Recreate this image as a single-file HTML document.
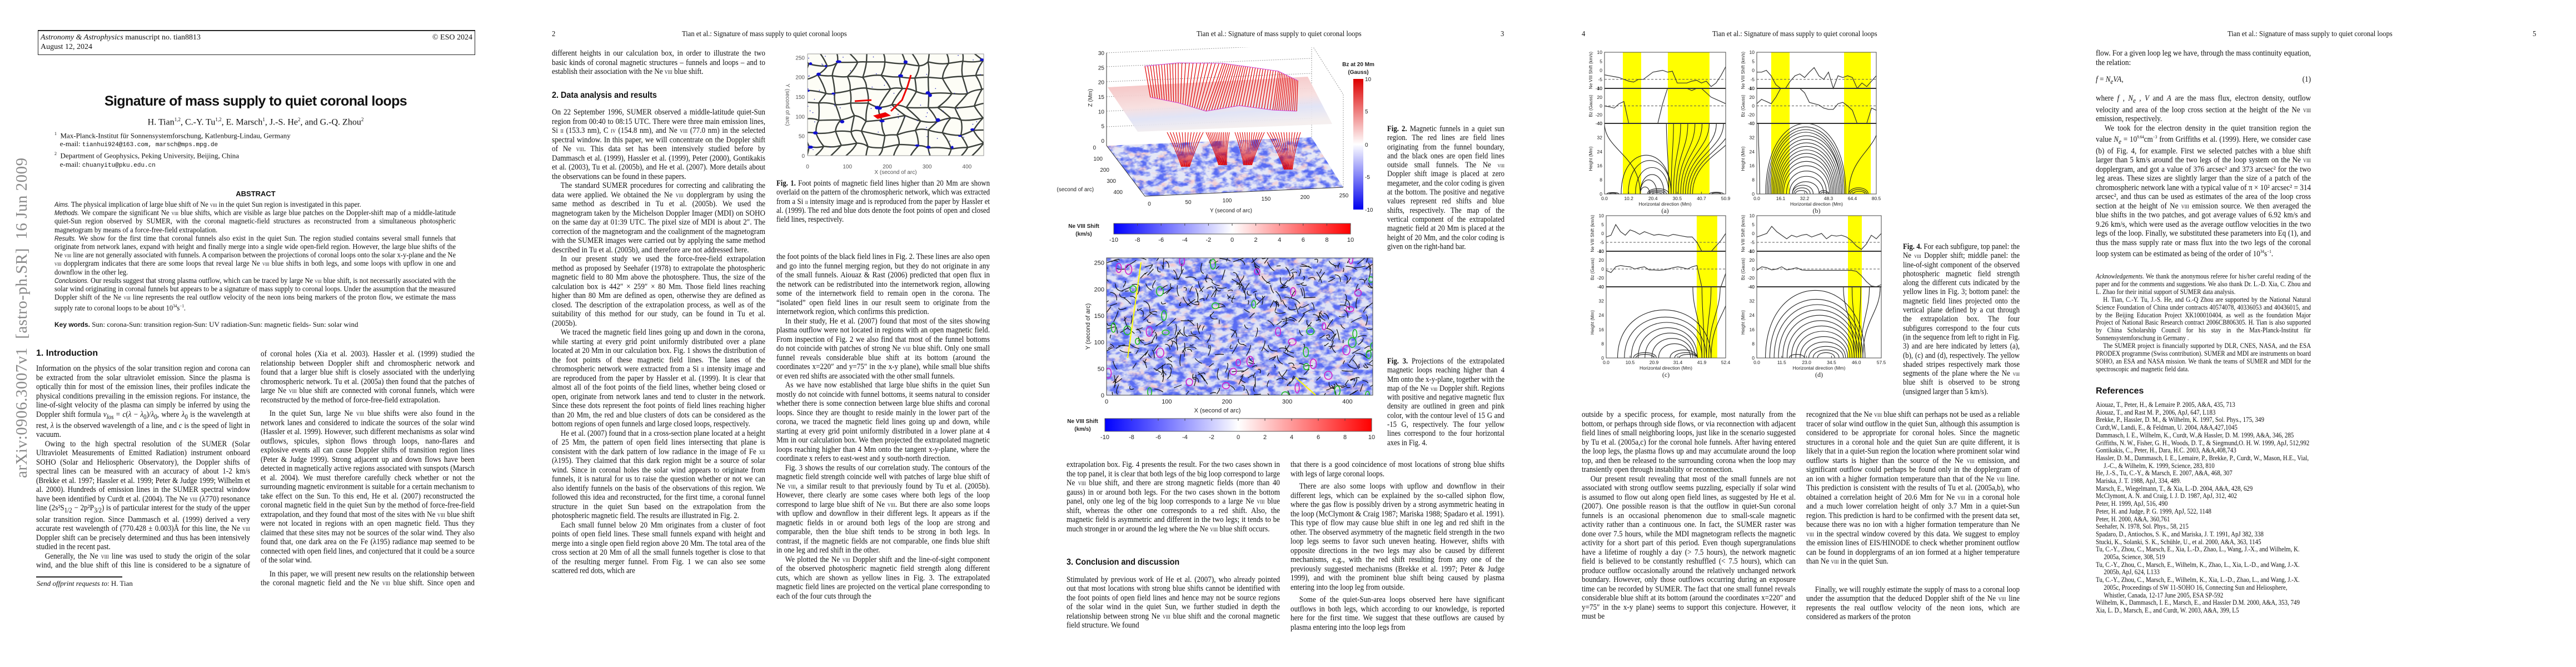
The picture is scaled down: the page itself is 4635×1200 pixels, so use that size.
<!DOCTYPE html>
<html><head><meta charset="utf-8">
<style>
html,body{margin:0;padding:0;background:#fff;}
body{width:4635px;height:1200px;position:relative;overflow:hidden;font-family:"Liberation Serif",serif;color:#111;}
.a{position:absolute;}
.col{position:absolute;font-size:14.6px;line-height:16.5px;text-align:justify;overflow:hidden;transform:scaleX(0.9);transform-origin:0 0;}
.col p{margin:0;text-indent:1.2em;}
.col p.ni{text-indent:0;}
.h{font-family:"Liberation Sans",sans-serif;font-weight:bold;font-size:16px;}
.rh{position:absolute;font-size:14px;top:54px;transform:scaleX(0.9);transform-origin:0 0;}
.cap{position:absolute;font-size:14.2px;line-height:16.3px;text-align:justify;transform:scaleX(0.9);transform-origin:0 0;}
.ref p{margin:0;padding-left:1.3em;text-indent:-1.3em;text-align:left;}
sc{font-variant:small-caps;font-size:0.85em;}
</style></head>
<body>
<!-- PAGE 1 -->
<div class="a" style="left:68px;top:54px;width:785px;height:42px;border:1px solid #222;border-top:2px solid #222;font-size:14px;line-height:17px;">
 <div style="position:absolute;left:4px;top:3px;"><i>Astronomy &amp; Astrophysics</i> manuscript no. tian8813</div>
 <div style="position:absolute;right:4px;top:3px;">© ESO 2024</div>
 <div style="position:absolute;left:4px;top:20px;">August 12, 2024</div>
</div>
<div class="a" style="left:23px;top:860px;transform-origin:0 0;transform:rotate(-90deg);font-size:29px;color:#8a8a8a;white-space:nowrap;letter-spacing:0.5px;">arXiv:0906.3007v1&nbsp; [astro-ph.SR]&nbsp; 16 Jun 2009</div>
<div class="a" style="left:120px;width:680px;top:168px;text-align:center;font-family:'Liberation Sans',sans-serif;font-weight:bold;font-size:25px;letter-spacing:-0.6px;">Signature of mass supply to quiet coronal loops</div>
<div class="a" style="left:120px;width:680px;top:210px;text-align:center;font-size:16px;">H. Tian<sup style="font-size:9px">1,2</sup>, C.-Y. Tu<sup style="font-size:9px">1,2</sup>, E. Marsch<sup style="font-size:9px">1</sup>, J.-S. He<sup style="font-size:9px">2</sup>, and G.-Q. Zhou<sup style="font-size:9px">2</sup></div>
<div class="a" style="left:98px;top:233px;font-size:13px;line-height:15px;">
<div><sup style="font-size:8px">1</sup>&nbsp; Max-Planck-Institut für Sonnensystemforschung, Katlenburg-Lindau, Germany</div>
<div>&nbsp;&nbsp; e-mail: <span style="font-family:'Liberation Mono',monospace;font-size:11px">tianhui924@163.com, marsch@mps.mpg.de</span></div>
<div><sup style="font-size:8px">2</sup>&nbsp; Department of Geophysics, Peking University, Beijing, China</div>
<div>&nbsp;&nbsp; e-mail: <span style="font-family:'Liberation Mono',monospace;font-size:11px">chuanyitu@pku.edu.cn</span></div>
</div>
<div class="a" style="left:120px;width:680px;top:341px;text-align:center;font-family:'Liberation Sans',sans-serif;font-weight:bold;font-size:13px;">ABSTRACT</div>
<div class="col" data-w="722" style="left:98px;top:361px;width:722px;height:210px;font-size:13.9px;line-height:15.2px;">
<p class="ni"><i style="font-family:'Liberation Sans',sans-serif;font-size:12px">Aims.</i> The physical implication of large blue shift of Ne <sc>viii</sc> in the quiet Sun region is investigated in this paper.</p>
<p class="ni"><i style="font-family:'Liberation Sans',sans-serif;font-size:12px">Methods.</i> We compare the significant Ne <sc>viii</sc> blue shifts, which are visible as large blue patches on the Doppler-shift map of a middle-latitude quiet-Sun region observed by SUMER, with the coronal magnetic-field structures as reconstructed from a simultaneous photospheric magnetogram by means of a force-free-field extrapolation.</p>
<p class="ni"><i style="font-family:'Liberation Sans',sans-serif;font-size:12px">Results.</i> We show for the first time that coronal funnels also exist in the quiet Sun. The region studied contains several small funnels that originate from network lanes, expand with height and finally merge into a single wide open-field region. However, the large blue shifts of the Ne <sc>viii</sc> line are not generally associated with funnels. A comparison between the projections of coronal loops onto the solar x-y-plane and the Ne <sc>viii</sc> dopplergram indicates that there are some loops that reveal large Ne <sc>viii</sc> blue shifts in both legs, and some loops with upflow in one and downflow in the other leg.</p>
<p class="ni"><i style="font-family:'Liberation Sans',sans-serif;font-size:12px">Conclusions.</i> Our results suggest that strong plasma outflow, which can be traced by large Ne <sc>viii</sc> blue shift, is not necessarily associated with the solar wind originating in coronal funnels but appears to be a signature of mass supply to coronal loops. Under the assumption that the measured Doppler shift of the Ne <sc>viii</sc> line represents the real outflow velocity of the neon ions being markers of the proton flow, we estimate the mass supply rate to coronal loops to be about 10<sup style="font-size:8px">34</sup>s<sup style="font-size:8px">−1</sup>.</p>
</div>
<div class="a" style="left:98px;top:576px;font-size:13px;"><b style="font-family:'Liberation Sans',sans-serif;font-size:12px">Key words.</b> Sun: corona-Sun: transition region-Sun: UV radiation-Sun: magnetic fields- Sun: solar wind</div>
<div class="a h" style="left:65px;top:627px;">1. Introduction</div>
<div class="col" data-w="385" style="left:65px;top:655px;width:385px;height:370px;">
<p class="ni">Information on the physics of the solar transition region and corona can be extracted from the solar ultraviolet emission. Since the plasma is optically thin for most of the emission lines, their profiles indicate the physical conditions prevailing in the emission regions. For instance, the line-of-sight velocity of the plasma can simply be inferred by using the Doppler shift formula <i>v<sub>los</sub></i> = <i>c</i>(<i>λ</i> − <i>λ</i><sub>0</sub>)/<i>λ</i><sub>0</sub>, where <i>λ</i><sub>0</sub> is the wavelength at rest, <i>λ</i> is the observed wavelength of a line, and <i>c</i> is the speed of light in vacuum.</p>
<p>Owing to the high spectral resolution of the SUMER (Solar Ultraviolet Measurements of Emitted Radiation) instrument onboard SOHO (Solar and Heliospheric Observatory), the Doppler shifts of spectral lines can be measured with an accuracy of about 1-2 km/s (Brekke et al. 1997; Hassler et al. 1999; Peter &amp; Judge 1999; Wilhelm et al. 2000). Hundreds of emission lines in the SUMER spectral window have been identified by Curdt et al. (2004). The Ne <sc>viii</sc> (λ770) resonance line (2s²S<sub>1/2</sub> − 2p²P<sub>3/2</sub>) is of particular interest for the study of the upper solar transition region. Since Dammasch et al. (1999) derived a very accurate rest wavelength of (770.428 ± 0.003)Å for this line, the Ne <sc>viii</sc> Doppler shift can be precisely determined and thus has been intensively studied in the recent past.</p>
<p>Generally, the Ne <sc>viii</sc> line was used to study the origin of the solar wind, and the blue shift of this line is considered to be a signature of solar-wind outflow. Sizable patches of large blue shift were found in the Ne <sc>viii</sc> dopplergrams in coronal holes (Peter 1999; Stucki et al. 2000; Wilhelm et al. 2000; Aiouaz et al. 2005); they tend to be larger in the darker regions</p>
</div>
<div class="a" style="left:65px;top:1037px;width:155px;height:2px;background:#222;"></div>
<div class="a" style="left:66px;top:1042px;font-size:13px;"><i>Send offprint requests to</i>: H. Tian</div>
<div class="col" data-w="385" style="left:469px;top:629px;width:385px;height:430px;">
<p class="ni">of coronal holes (Xia et al. 2003). Hassler et al. (1999) studied the relationship between Doppler shift and chromospheric network and found that a larger blue shift is closely associated with the underlying chromospheric network. Tu et al. (2005a) then found that the patches of large Ne <sc>viii</sc> blue shift are connected with coronal funnels, which were reconstructed by the method of force-free-field extrapolation.</p>
<p style="margin-top:8px">In the quiet Sun, large Ne <sc>viii</sc> blue shifts were also found in the network lanes and considered to indicate the sources of the solar wind (Hassler et al. 1999). However, such different mechanisms as solar wind outflows, spicules, siphon flows through loops, nano-flares and explosive events all can cause Doppler shifts of transition region lines (Peter &amp; Judge 1999). Strong adjacent up and down flows have been detected in magnetically active regions associated with sunspots (Marsch et al. 2004). We must therefore carefully check whether or not the surrounding magnetic environment is suitable for a certain mechanism to take effect on the Sun. To this end, He et al. (2007) reconstructed the coronal magnetic field in the quiet Sun by the method of force-free-field extrapolation, and they found that most of the sites with Ne <sc>viii</sc> blue shift were not located in regions with an open magnetic field. Thus they claimed that these sites may not be sources of the solar wind. They also found that, one dark area on the Fe (λ195) radiance map seemed to be connected with open field lines, and conjectured that it could be a source of the solar wind.</p>
<p style="margin-top:8px">In this paper, we will present new results on the relationship between the coronal magnetic field and the Ne <sc>viii</sc> blue shift. Since open and closed field lines can reach different heights, we will trace the magnetic field lines going up and down, while starting at every grid point uniformly distributed on a plane at</p>
</div>

<!-- PAGE 2 -->
<div class="rh" style="left:993px;">2</div>
<div class="rh" style="left:1227px;">Tian et al.: Signature of mass supply to quiet coronal loops</div>
<div class="col" data-w="384" style="left:993px;top:88px;width:384px;height:1066px;">
<p class="ni">different heights in our calculation box, in order to illustrate the two basic kinds of coronal magnetic structures – funnels and loops – and to establish their association with the Ne <sc>viii</sc> blue shift.</p>
<div class="h" style="margin:26px 0 14px 0;">2. Data analysis and results</div>
<p class="ni">On 22 September 1996, SUMER observed a middle-latitude quiet-Sun region from 00:40 to 08:15 UTC. There were three main emission lines, Si <sc>ii</sc> (153.3 nm), C <sc>iv</sc> (154.8 nm), and Ne <sc>viii</sc> (77.0 nm) in the selected spectral window. In this paper, we will concentrate on the Doppler shift of Ne <sc>viii</sc>. This data set has been intensively studied before by Dammasch et al. (1999), Hassler et al. (1999), Peter (2000), Gontikakis et al. (2003), Tu et al. (2005b), and He et al. (2007). More details about the observations can be found in these papers.</p>
<p>The standard SUMER procedures for correcting and calibrating the data were applied. We obtained the Ne <sc>viii</sc> dopplergram by using the same method as described in Tu et al. (2005b). We used the magnetogram taken by the Michelson Doppler Imager (MDI) on SOHO on the same day at 01:39 UTC. The pixel size of MDI is about 2″. The correction of the magnetogram and the coalignment of the magnetogram with the SUMER images were carried out by applying the same method described in Tu et al. (2005b), and therefore are not addressed here.</p>
<p>In our present study we used the force-free-field extrapolation method as proposed by Seehafer (1978) to extrapolate the photospheric magnetic field to 80 Mm above the photosphere. Thus, the size of the calculation box is 442″ × 259″ × 80 Mm. Those field lines reaching higher than 80 Mm are defined as open, otherwise they are defined as closed. The description of the extrapolation process, as well as of the suitability of this method for our study, can be found in Tu et al. (2005b).</p>
<p>We traced the magnetic field lines going up and down in the corona, while starting at every grid point uniformly distributed over a plane located at 20 Mm in our calculation box. Fig. 1 shows the distribution of the foot points of these magnetic field lines. The lanes of the chromospheric network were extracted from a Si <sc>ii</sc> intensity image and are reproduced from the paper by Hassler et al. (1999). It is clear that almost all of the foot points of the field lines, whether being closed or open, originate from network lanes and tend to cluster in the network. Since these dots represent the foot points of field lines reaching higher than 20 Mm, the red and blue clusters of dots can be considered as the bottom regions of open funnels and large closed loops, respectively.</p>
<p>He et al. (2007) found that in a cross-section plane located at a height of 25 Mm, the pattern of open field lines intersecting that plane is consistent with the dark pattern of low radiance in the image of Fe <sc>xii</sc> (λ195). They claimed that this dark region might be a source of solar wind. Since in coronal holes the solar wind appears to originate from funnels, it is natural for us to raise the question whether or not we can also identify funnels on the basis of the observations of this region. We followed this idea and reconstructed, for the first time, a coronal funnel structure in the quiet Sun based on the extrapolation from the photospheric magnetic field. The results are illustrated in Fig. 2.</p>
<p>Each small funnel below 20 Mm originates from a cluster of foot points of open field lines. These small funnels expand with height and merge into a single open field region above 20 Mm. The total area of the cross section at 20 Mm of all the small funnels together is close to that of the resulting merger funnel. From Fig. 1 we can also see some scattered red dots, which are</p>
</div>

<svg class="a" style="left:1390px;top:88px;" width="400" height="230" id="fig1"></svg>
<div class="cap" data-w="384" style="left:1397px;top:322px;width:384px;"><b>Fig. 1.</b> Foot points of magnetic field lines higher than 20 Mm are shown overlaid on the pattern of the chromospheric network, which was extracted from a Si <sc>ii</sc> intensity image and is reproduced from the paper by Hassler et al. (1999). The red and blue dots denote the foot points of open and closed field lines, respectively.</div>
<div class="col" data-w="384" style="left:1397px;top:454px;width:384px;height:700px;">
<p class="ni">the foot points of the black field lines in Fig. 2. These lines are also open and go into the funnel merging region, but they do not originate in any of the small funnels. Aiouaz &amp; Rast (2006) predicted that open flux in the network can be redistributed into the internetwork region, allowing some of the internetwork field to remain open in the corona. The “isolated” open field lines in our result seem to originate from the internetwork region, which confirms this prediction.</p>
<p>In their study, He et al. (2007) found that most of the sites showing plasma outflow were not located in regions with an open magnetic field. From inspection of Fig. 2 we also find that most of the funnel bottoms do not coincide with patches of strong Ne <sc>viii</sc> blue shift. Only one small funnel reveals considerable blue shift at its bottom (around the coordinates x=220″ and y=75″ in the x-y plane), while small blue shifts or even red shifts are associated with the other small funnels.</p>
<p>As we have now established that large blue shifts in the quiet Sun mostly do not coincide with funnel bottoms, it seems natural to consider whether there is some connection between large blue shifts and coronal loops. Since they are thought to reside mainly in the lower part of the corona, we traced the magnetic field lines going up and down, while starting at every grid point uniformly distributed in a lower plane at 4 Mm in our calculation box. We then projected the extrapolated magnetic loops reaching higher than 4 Mm onto the tangent x-y-plane, where the coordinate x refers to east-west and y south-north direction.</p>
<p>Fig. 3 shows the results of our correlation study. The contours of the magnetic field strength coincide well with patches of large blue shift of Ne <sc>viii</sc>, a similar result to that previously found by Tu et al. (2005b). However, there clearly are some cases where both legs of the loop correspond to large blue shift of Ne <sc>viii</sc>. But there are also some loops with upflow and downflow in their different legs. It appears as if the magnetic fields in or around both legs of the loop are strong and comparable, then the blue shift tends to be strong in both legs. In contrast, if the magnetic fields are not comparable, one finds blue shift in one leg and red shift in the other.</p>
<p>We plotted the Ne <sc>viii</sc> Doppler shift and the line-of-sight component of the observed photospheric magnetic field strength along different cuts, which are shown as yellow lines in Fig. 3. The extrapolated magnetic field lines are projected on the vertical plane corresponding to each of the four cuts through the</p>
</div>

<!-- PAGE 3 -->
<div class="rh" style="left:2153px;">Tian et al.: Signature of mass supply to quiet coronal loops</div>
<div class="rh" style="left:2700px;">3</div>
<svg class="a" style="left:1900px;top:85px;" width="580" height="360" id="fig2"></svg>
<div class="cap" data-w="211" style="left:2496px;top:224px;width:211px;"><b>Fig. 2.</b> Magnetic funnels in a quiet sun region. The red lines are field lines originating from the funnel boundary, and the black ones are open field lines outside small funnels. The Ne <sc>viii</sc> Doppler shift image is placed at zero megameter, and the color coding is given at the bottom. The positive and negative values represent red shifts and blue shifts, respectively. The map of the vertical component of the extrapolated magnetic field at 20 Mm is placed at the height of 20 Mm, and the color coding is given on the right-hand bar.</div>
<svg class="a" style="left:1900px;top:455px;" width="590" height="345" id="fig3"></svg>
<div class="cap" data-w="211" style="left:2496px;top:642px;width:211px;"><b>Fig. 3.</b> Projections of the extrapolated magnetic loops reaching higher than 4 Mm onto the x-y-plane, together with the map of the Ne <sc>viii</sc> Doppler shift. Regions with positive and negative magnetic flux density are outlined in green and pink color, with the contour level of 15 G and -15 G, respectively. The four yellow lines correspond to the four horizontal axes in Fig. 4.</div>
<div class="col" data-w="384" style="left:1919px;top:828px;width:384px;height:326px;">
<p class="ni">extrapolation box. Fig. 4 presents the result. For the two cases shown in the top panel, it is clear that both legs of the big loop correspond to large Ne <sc>viii</sc> blue shift, and there are strong magnetic fields (more than 40 gauss) in or around both legs. For the two cases shown in the bottom panel, only one leg of the big loop corresponds to a large Ne <sc>viii</sc> blue shift, whereas the other one corresponds to a red shift. Also, the magnetic field is asymmetric and different in the two legs; it tends to be much stronger in or around the leg where the Ne <sc>viii</sc> blue shift occurs.</p>
<div class="h" style="margin:44px 0 14px 0;">3. Conclusion and discussion</div>
<p class="ni">Stimulated by previous work of He et al. (2007), who already pointed out that most locations with strong blue shifts cannot be identified with the foot points of open field lines and hence may not be source regions of the solar wind in the quiet Sun, we further studied in depth the relationship between strong Ne <sc>viii</sc> blue shift and the coronal magnetic field structure. We found</p>
</div>
<div class="col" data-w="385" style="left:2322px;top:828px;width:385px;height:326px;">
<p class="ni">that there is a good coincidence of most locations of strong blue shifts with legs of large coronal loops.</p>
<p style="margin-top:6px">There are also some loops with upflow and downflow in their different legs, which can be explained by the so-called siphon flow, where the gas flow is possibly driven by a strong asymmetric heating in the loop (McClymont &amp; Craig 1987; Mariska 1988; Spadaro et al. 1991). This type of flow may cause blue shift in one leg and red shift in the other. The observed asymmetry of the magnetic field strength in the two loop legs seems to favor such uneven heating. However, shifts with opposite directions in the two legs may also be caused by different mechanisms, e.g., with the red shift resulting from any one of the previously suggested mechanisms (Brekke et al. 1997; Peter &amp; Judge 1999), and with the prominent blue shift being caused by plasma entering into the loop leg from outside.</p>
<p style="margin-top:6px">Some of the quiet-Sun-area loops observed here have significant outflows in both legs, which according to our knowledge, is reported here for the first time. We suggest that these outflows are caused by plasma entering into the loop legs from</p>
</div>

<!-- PAGE 4 -->
<div class="rh" style="left:2846px;">4</div>
<div class="rh" style="left:3081px;">Tian et al.: Signature of mass supply to quiet coronal loops</div>
<svg class="a" style="left:2840px;top:85px;" width="570" height="600" id="fig4"></svg>
<div class="cap" data-w="210" style="left:3424px;top:436px;width:210px;"><b>Fig. 4.</b> For each subfigure, top panel: the Ne <sc>viii</sc> Doppler shift; middle panel: the line-of-sight component of the observed photospheric magnetic field strength along the different cuts indicated by the yellow lines in Fig. 3; bottom panel: the magnetic field lines projected onto the vertical plane defined by a cut through the extrapolation box. The four subfigures correspond to the four cuts (in the sequence from left to right in Fig. 3) and are here indicated by letters (a), (b), (c) and (d), respectively. The yellow shaded stripes respectively mark those segments of the plane where the Ne <sc>viii</sc> blue shift is observed to be strong (unsigned larger than 5 km/s).</div>
<div class="col" data-w="385" style="left:2846px;top:738px;width:385px;height:416px;">
<p class="ni">outside by a specific process, for example, most naturally from the bottom, or perhaps through side flows, or via reconnection with adjacent field lines of small neighboring loops, just like in the scenario suggested by Tu et al. (2005a,c) for the coronal hole funnels. After having entered the loop legs, the plasma flows up and may accumulate around the loop top, and then be released to the surrounding corona when the loop may transiently open through instability or reconnection.</p>
<p>Our present result revealing that most of the small funnels are not associated with strong outflow seems puzzling, especially if solar wind is assumed to flow out along open field lines, as suggested by He et al. (2007). One possible reason is that the outflow in quiet-Sun coronal funnels is an occasional phenomenon due to small-scale magnetic activity rather than a continuous one. In fact, the SUMER raster was done over 7.5 hours, while the MDI magnetogram reflects the magnetic activity for a short part of this period. Even though supergranulations have a lifetime of roughly a day (&gt; 7.5 hours), the network magnetic field is believed to be constantly reshuffled (&lt; 7.5 hours), which can produce outflow occasionally around the relatively unchanged network boundary. However, only those outflows occurring during an exposure time can be recorded by SUMER. The fact that one small funnel reveals considerable blue shift at its bottom (around the coordinates x=220″ and y=75″ in the x-y plane) seems to support this conjecture. However, it must be</p>
</div>
<div class="col" data-w="384" style="left:3250px;top:738px;width:384px;height:416px;">
<p class="ni">recognized that the Ne <sc>viii</sc> blue shift can perhaps not be used as a reliable tracer of solar wind outflow in the quiet Sun, although this assumption is considered to be appropriate for coronal holes. Since the magnetic structures in a coronal hole and the quiet Sun are quite different, it is likely that in a quiet-Sun region the location where prominent solar wind outflow starts is higher than the source of the Ne <sc>viii</sc> emission, and significant outflow could perhaps be found only in the dopplergram of an ion with a higher formation temperature than that of the Ne <sc>viii</sc> line. This prediction is consistent with the results of Tu et al. (2005a,b), who obtained a correlation height of 20.6 Mm for Ne <sc>viii</sc> in a coronal hole and a much lower correlation height of only 3.7 Mm in a quiet-Sun region. This prediction is hard to be confirmed with the present data set, because there was no ion with a higher formation temperature than Ne <sc>viii</sc> in the spectral window covered by this data. We suggest to employ the emission lines of EIS/HINODE to check whether prominent outflow can be found in dopplergrams of an ion formed at a higher temperature than Ne <sc>viii</sc> in the quiet Sun.</p>
<p style="margin-top:34px">Finally, we will roughly estimate the supply of mass to a coronal loop under the assumption that the deduced Doppler shift of the Ne <sc>viii</sc> line represents the real outflow velocity of the neon ions, which are considered as markers of the proton</p>
</div>

<!-- PAGE 5 -->
<div class="rh" style="left:4008px;">Tian et al.: Signature of mass supply to quiet coronal loops</div>
<div class="rh" style="left:4557px;">5</div>
<div class="col" data-w="387" style="left:3771px;top:88px;width:387px;height:400px;">
<p class="ni">flow. For a given loop leg we have, through the mass continuity equation, the relation:</p>
<div style="margin:14px 0 14px 0;position:relative;"><i>f</i> = <i>N<sub>e</sub>VA</i>,<span style="position:absolute;right:0;">(1)</span></div>
<p class="ni">where <i>f</i> , <i>N<sub>e</sub></i> , <i>V</i> and <i>A</i> are the mass flux, electron density, outflow velocity and area of the loop cross section at the height of the Ne <sc>viii</sc> emission, respectively.</p>
<p>We took for the electron density in the quiet transition region the value <i>N<sub>e</sub></i> = 10<sup style="font-size:8px">9.64</sup>cm<sup style="font-size:8px">−3</sup> from Griffiths et al. (1999). Here, we consider case (b) of Fig. 4, for example. First we selected patches with a blue shift larger than 5 km/s around the two legs of the loop system on the Ne <sc>viii</sc> dopplergram, and got a value of 376 arcsec² and 373 arcsec² for the two leg areas. These sizes are slightly larger than the size of a patch of the chromospheric network lane with a typical value of π × 10² arcsec² = 314 arcsec², and thus can be used as estimates of the area of the loop cross section at the height of Ne <sc>viii</sc> emission source. We then averaged the blue shifts in the two patches, and got average values of 6.92 km/s and 9.26 km/s, which were used as the average outflow velocities in the two legs of the loop. Finally, we substituted these parameters into Eq (1), and thus the mass supply rate or mass flux into the two legs of the coronal loop system can be estimated as being of the order of 10<sup style="font-size:8px">34</sup>s<sup style="font-size:8px">−1</sup>.</p>
</div>
<div class="col" data-w="387" style="left:3771px;top:491px;width:387px;height:180px;font-size:12.2px;line-height:13.9px;">
<p class="ni"><i>Acknowledgements.</i> We thank the anonymous referee for his/her careful reading of the paper and for the comments and suggestions. We also thank Dr. L.-D. Xia, C. Zhou and L. Zhao for their initial support of SUMER data analysis.</p>
<p>H. Tian, C.-Y. Tu, J.-S. He, and G.-Q Zhou are supported by the National Natural Science Foundation of China under contracts 40574078, 40336053 and 40436015, and by the Beijing Education Project XK100010404, as well as the foundation Major Project of National Basic Research contract 2006CB806305. H. Tian is also supported by China Scholarship Council for his stay in the Max-Planck-Institut für Sonnensystemforschung in Germany .</p>
<p>The SUMER project is financially supported by DLR, CNES, NASA, and the ESA PRODEX programme (Swiss contribution). SUMER and MDI are instruments on board SOHO, an ESA and NASA mission. We thank the teams of SUMER and MDI for the spectroscopic and magnetic field data.</p>
</div>
<div class="a h" style="left:3771px;top:695px;">References</div>
<div class="col ref" data-w="387" style="left:3771px;top:722px;width:387px;height:430px;font-size:12.2px;line-height:13.7px;">
<p>Aiouaz, T., Peter, H., &amp; Lemaire P. 2005, A&amp;A, 435, 713</p>
<p>Aiouaz, T., and Rast M. P., 2006, ApJ, 647, L183</p>
<p>Brekke, P., Hassler, D. M., &amp; Wilhelm, K. 1997, Sol. Phys., 175, 349</p>
<p>Curdt,W., Landi, E., &amp; Feldman, U. 2004, A&amp;A,427,1045</p>
<p>Dammasch, I. E., Wilhelm, K., Curdt, W.,&amp; Hassler, D. M. 1999, A&amp;A, 346, 285</p>
<p>Griffiths, N. W., Fisher, G. H., Woods, D. T., &amp; Siegmund,O. H. W. 1999, ApJ, 512,992</p>
<p>Gontikakis, C., Peter, H., Dara, H.C. 2003, A&amp;A,408,743</p>
<p>Hassler, D. M., Dammasch, I. E., Lemaire, P., Brekke, P., Curdt, W., Mason, H.E., Vial, J.-C., &amp; Wilhelm, K. 1999, Science, 283, 810</p>
<p>He, J.-S., Tu, C.-Y., &amp; Marsch, E. 2007, A&amp;A, 468, 307</p>
<p>Mariska, J. T. 1988, ApJ, 334, 489.</p>
<p>Marsch, E., Wiegelmann, T., &amp; Xia, L.-D. 2004, A&amp;A, 428, 629</p>
<p>McClymont, A. N. and Craig, I. J. D. 1987, ApJ, 312, 402</p>
<p>Peter, H. 1999, ApJ, 516, 490</p>
<p>Peter, H. and Judge, P. G. 1999, ApJ, 522, 1148</p>
<p>Peter, H. 2000, A&amp;A, 360,761</p>
<p>Seehafer, N. 1978, Sol. Phys., 58, 215</p>
<p>Spadaro, D., Antiochos, S. K., and Mariska, J. T. 1991, ApJ 382, 338</p>
<p>Stucki, K., Solanki, S. K., Schühle, U., et al. 2000, A&amp;A, 363, 1145</p>
<p>Tu, C.-Y., Zhou, C., Marsch, E., Xia, L.-D., Zhao, L., Wang, J.-X., and Wilhelm, K. 2005a, Science, 308, 519</p>
<p>Tu, C.-Y., Zhou, C., Marsch, E., Wilhelm, K., Zhao, L., Xia, L.-D., and Wang, J.-X. 2005b, ApJ, 624, L133</p>
<p>Tu, C.-Y., Zhou, C., Marsch, E., Wilhelm, K., Xia, L.-D., Zhao, L., and Wang, J.-X. 2005c, Proceedings of SW 11-SOHO 16, Connecting Sun and Heliosphere, Whistler, Canada, 12-17 June 2005, ESA SP-592</p>
<p>Wilhelm, K., Dammasch, I. E., Marsch, E., and Hassler D.M. 2000, A&amp;A, 353, 749</p>
<p>Xia, L. D., Marsch, E., and Curdt, W. 2003, A&amp;A, 399, L5</p>
</div>

<script>
// widen scaled text blocks so the 0.9 horizontal condensation keeps the original column width
document.querySelectorAll('[data-w]').forEach(function (el) {
  el.style.width = (parseFloat(el.getAttribute('data-w')) / 0.9) + 'px';
});

// ===== Figure 4 data =====
const panelLabels = ["(a)", "(b)", "(c)", "(d)"];
const xMax = [50.9, 80.5, 52.4, 57.5];
const xTickLabels = [
  ["0.0","10.2","20.4","30.5","40.7","50.9"],
  ["0.0","16.1","32.2","48.3","64.4","80.5"],
  ["0.0","10.5","20.9","31.4","41.9","52.4"],
  ["0.0","11.5","23.0","34.5","46.0","57.5"]];
const dopTicks = [10, 5, 0, -5, -10];
const bzTicks = [40, 20, 0, -20, -40];
const hTicks = [0, 8, 16, 24, 32, 40];
const stripes = [
  [[7.7, 15.4], [26.6, 44.1]],
  [[9.7, 22.1], [58.8, 76.8]],
  [[39.7, 48.7]],
  [[42.1, 48.5]]];
const dopA = [-2.5,-3,-3.5,-4,-5,-6,-6.5,-5,-5,-3,-1,-0.5,0,-1,-0.5,-7,-7,-7,-6,-5.5,-7,-6,-9,-7,-3,2];
const dopB = [-1,-1,0,-3,-8,-10,-10,-6,-3,-2,-4,-1,1.5,-3,-5,-1,-10,-3,-4,-3,-4,-10,-7,-9,-6,-3];
const dopC = [-2,-1,5,1,-1,2,1,-0.5,1,0,-1,-0.5,-1,-1.5,-0.5,-1,-1.5,-2,-2,-5,-10,-10,-10,-7,-4,0];
const dopD = [-2,-1,0,4,1,-1,-3,-1,-2,-1,-0.5,-2,-1,0,-3,-1,-1.5,-1,-2,-4,-7,-9,-6,-1,-3,0];
const bzA = [0,-2,-5,5,10,-40,-40,-40,-40,-40,-40,-40,5,40,40,40,40,40,35,40,40,30,20,15,10,5];
const bzB = [5,15,10,5,20,40,40,40,40,40,30,8,5,2,-5,-8,-8,5,8,0,-10,-40,-40,-40,-5,-10];
const bzC = [-3,-8,5,8,6,5,0,3,5,-2,-2,-3,-2,0,3,5,3,0,5,8,-40,-40,-40,-40,-40,-10];
const bzD = [-3,5,3,-2,0,5,-2,0,3,-2,-3,-3,-3,-3,-3,-3,-3,-3,-3,-3,-5,-15,-28,-38,-40,-35];
// loops: [footLeft, footRight, apexHeight] (Mm)
const loopsA = [[1,6,0.8],[2,5,0.5],[15,19,4],[15,22,8],[15,25,11],[13,27,15],[10,28,19],[7,28,22],[18,27,3],[18.5,26,2.2],[19,25,1.5],[20,24,0.8],[44,50,1],[45,49,0.6]];
const loopsB = [[6,60,40],[7,59,38],[8,58,36.5],[9,57,35],[10,57,33],[11,56,31],[12,55,29],[13,54,27],[14,53,25],[15,52,23],[16,51,21],[17,50,18.5],[18,49,16],[20,47,13],[22,45,10],[24,42,7],[24,38,5],[25,36,3.5],[26,34,2],[42,48,2],[43,47,1],[62,75,3.5],[63,74,2.5],[65,73,1.5]];
const loopsC = [[5,46,27],[8,44,23],[11,42,20],[14,40,17],[17,39,14],[20,38,11],[23,37,8],[12,22,3],[13,21,2],[28,40,4.5],[30,40,3],[32,40,2]];
const loopsD = [[4,50,38],[6,49,33],[8,48,30],[10,47,27],[12,46,24],[14,45,21],[16,44,18],[18,43,15],[20,42,12],[22,41,9],[24,40,6.5],[26,38,4.5],[28,36,3],[15,22,2]];
// open field lines: [footX, topX] (Mm)
const opensA = [[15,0],[27,26],[28,29],[29,32],[30,35],[31,38],[32,41],[33,44],[34,47],[35,50],[36,53],[37,56]];
const opensB = [[62,82],[2,1]];
const opensC = [[42,38],[43,42],[44,46],[45,50],[46,54]];
const opensD = [[45,40],[46,44],[47,48],[48,52],[49,57]];

const dopSeries = [dopA, dopB, dopC, dopD];
const bzSeries = [bzA, bzB, bzC, bzD];
const loopSets = [loopsA, loopsB, loopsC, loopsD];
const openSets = [opensA, opensB, opensC, opensD];

const NS = "http://www.w3.org/2000/svg";
function mk(parent, tag, attrs) {
  const e = document.createElementNS(NS, tag);
  for (const k in attrs) e.setAttribute(k, attrs[k]);
  parent.appendChild(e);
  return e;
}
function txt(parent, x, y, s, size, anchor, extra) {
  const t = mk(parent, "text", Object.assign({x: x, y: y, "font-size": size, "text-anchor": anchor || "middle", "font-family": "Liberation Sans, sans-serif", fill: "#222"}, extra || {}));
  t.textContent = s;
  return t;
}

// ---------- Figure 4 ----------
(function () {
  const svg = document.getElementById("fig4");
  const ox = 2840, oy = 85;
  const geo = [
    {x0: 2887, x1: 3105, y: [94, 159, 222, 349]},
    {x0: 3161, x1: 3376, y: [94, 159, 222, 349]},
    {x0: 2890, x1: 3105, y: [388, 452, 516, 644]},
    {x0: 3161, x1: 3385, y: [388, 452, 516, 644]}];
  for (let p = 0; p < 4; p++) {
    const G = geo[p];
    const g = mk(svg, "g", {});
    
    
    const L = G.x0 - ox, R = G.x1 - ox;
    const y0 = G.y[0] - oy, y1 = G.y[1] - oy, y2 = G.y[2] - oy, y3 = G.y[3] - oy;
    const xs = v => L + (v / xMax[p]) * (R - L);
    const yd = v => y0 + (10 - Math.max(-10, Math.min(10, v))) / 20 * (y1 - y0);
    const yb = v => y1 + (40 - Math.max(-40, Math.min(40, v))) / 80 * (y2 - y1);
    const yh = v => y3 - (v / 40) * (y3 - y2);
    const clipId = "c4" + p;
    const cp = mk(svg, "clipPath", {id: clipId});
    mk(cp, "rect", {x: L, y: y0, width: R - L, height: y3 - y0});
    stripes[p].forEach(s => {
      const r = mk(g, "rect", {x: xs(s[0]), y: y0, width: xs(s[1]) - xs(s[0]), height: y3 - y0, fill: "#ffff00"});
      
      
    });
    mk(g, "line", {x1: L, x2: R, y1: yd(-5), y2: yd(-5), stroke: "#555", "stroke-dasharray": "4,3", "stroke-width": 1});
    mk(g, "line", {x1: L, x2: R, y1: yb(0), y2: yb(0), stroke: "#555", "stroke-dasharray": "4,3", "stroke-width": 1});
    const d = dopSeries[p];
    let pts = d.map((v, i) => xs(i / (d.length - 1) * xMax[p]).toFixed(1) + "," + yd(v).toFixed(1)).join(" ");
    const dl = mk(g, "polyline", {points: pts, fill: "none", stroke: "#333", "stroke-width": 1.2});
    
    
    const b = bzSeries[p];
    pts = b.map((v, i) => xs(i / (b.length - 1) * xMax[p]).toFixed(1) + "," + yb(v).toFixed(1)).join(" ");
    const bl = mk(g, "polyline", {points: pts, fill: "none", stroke: "#333", "stroke-width": 1.2});
    
    
    const fg = mk(g, "g", {"clip-path": "url(#" + clipId + ")", fill: "none", stroke: "#222", "stroke-width": 1.1});
    loopSets[p].forEach(l => {
      const a = xs(l[0]), c = xs(l[1]), hy = yh(l[2] * 4 / 3);
      const e = mk(fg, "path", {d: "M" + a + "," + y3 + " C" + a + "," + hy + " " + c + "," + hy + " " + c + "," + y3});
      
      
    });
    openSets[p].forEach(o => {
      const a = xs(o[0]), c = xs(o[1]);
      const e = mk(fg, "path", {d: "M" + a + "," + y3 + " C" + a + "," + yh(22) + " " + c + "," + yh(25) + " " + c + "," + y2});
      
      
    });
    [[y0, y1], [y1, y2], [y2, y3]].forEach(q => mk(g, "rect", {x: L, y: q[0], width: R - L, height: q[1] - q[0], fill: "none", stroke: "#444", "stroke-width": 1}));
    mk(g, "line", {x1: L, x2: R, y1: y1, y2: y1, stroke: "#333", "stroke-width": 2});
    mk(g, "line", {x1: L, x2: R, y1: y2, y2: y2, stroke: "#333", "stroke-width": 2});
    dopTicks.forEach(t => txt(g, L - 4, yd(t) + 3, String(t), 8.5, "end"));
    bzTicks.forEach(t => txt(g, L - 4, yb(t) + 3, String(t), 8.5, "end"));
    hTicks.forEach(t => txt(g, L - 4, yh(t) + 3, String(t), 8.5, "end"));
    xTickLabels[p].forEach((s, i) => {
      const x = L + i / 5 * (R - L);
      mk(g, "line", {x1: x, x2: x, y1: y3, y2: y3 - 4, stroke: "#444"});
      txt(g, x, y3 + 11, s, 8.5);
    });
    txt(g, (L + R) / 2, y3 + 21, "Horizontal direction (Mm)", 8.5);
    txt(g, (L + R) / 2, y3 + 34, panelLabels[p], 12, "middle", {"font-family": "Liberation Serif, serif"});
    txt(g, L - 22, (y0 + y1) / 2, "Ne VIII Shift (km/s)", 8, "middle", {transform: "rotate(-90 " + (L - 22) + " " + ((y0 + y1) / 2) + ")"});
    txt(g, L - 22, (y1 + y2) / 2, "Bz (Gauss)", 8, "middle", {transform: "rotate(-90 " + (L - 22) + " " + ((y1 + y2) / 2) + ")"});
    txt(g, L - 22, (y2 + y3) / 2, "Height (Mm)", 8, "middle", {transform: "rotate(-90 " + (L - 22) + " " + ((y2 + y3) / 2) + ")"});
  }
})();

// ---------- Figure 1 (network texture) ----------
(function () {
  const svg = document.getElementById("fig1");
  const ox = 1390, oy = 88;
  const L = 1453 - ox, R = 1770 - ox, T = 97 - oy, B = 280 - oy;
  let seed = 7;
  const rnd = () => { seed = (seed * 16807) % 2147483647; return seed / 2147483647; };
  const cp = mk(svg, "clipPath", {id: "c1"});
  mk(cp, "rect", {x: L, y: T, width: R - L, height: B - T});
  const g = mk(svg, "g", {"clip-path": "url(#c1)"});
  mk(g, "rect", {x: L, y: T, width: R - L, height: B - T, fill: "#fdfdf6"});
  const nx = 12, ny = 8, P = [];
  for (let j = 0; j <= ny; j++) { P[j] = []; for (let i = 0; i <= nx; i++) {
    P[j][i] = [L - 10 + i * (R - L + 20) / nx + (rnd() - 0.5) * 18 + (j % 2) * 10, T - 8 + j * (B - T + 16) / ny + (rnd() - 0.5) * 12];
  } }
  let d = "";
  for (let j = 0; j <= ny; j++) for (let i = 0; i < nx; i++) { const a = P[j][i], b = P[j][i + 1]; d += "M" + a + "Q" + ((a[0] + b[0]) / 2 + (rnd() - .5) * 8) + "," + ((a[1] + b[1]) / 2 + (rnd() - .5) * 8) + " " + b; }
  for (let j = 0; j < ny; j++) for (let i = 0; i <= nx; i++) { const a = P[j][i], b = P[j + 1][i]; d += "M" + a + "Q" + ((a[0] + b[0]) / 2 + (rnd() - .5) * 10) + "," + ((a[1] + b[1]) / 2) + " " + b; }
  mk(g, "path", {d: d, fill: "none", stroke: "#3a3f3a", "stroke-width": 2.4, "stroke-linejoin": "round"});
  for (let k = 0; k < 40; k++) { const j = Math.floor(rnd() * (ny + 1)), i = Math.floor(rnd() * (nx + 1)); const p = P[j][i];
    mk(g, "ellipse", {cx: p[0] + (rnd() - .5) * 6, cy: p[1] + (rnd() - .5) * 6, rx: 2 + rnd() * 3, ry: 1.5 + rnd() * 2, fill: "#1010d0"}); }
  for (let k = 0; k < 60; k++) mk(g, "circle", {cx: L + rnd() * (R - L), cy: T + rnd() * (B - T), r: 0.8, fill: "#2020c0"});
  mk(g, "path", {d: "M" + (L + 118) + "," + (B - 72) + " l22,-6 l10,6 l-24,6 z", fill: "#ee0000"});
  mk(g, "path", {d: "M" + (L + 150) + "," + (B - 80) + " l20,-20 l10,-25 l6,-20", fill: "none", stroke: "#e00", "stroke-width": 3});
  mk(g, "path", {d: "M" + (L + 85) + "," + (B - 98) + " l30,-2", fill: "none", stroke: "#e00", "stroke-width": 3});
  mk(svg, "rect", {x: L, y: T, width: R - L, height: B - T, fill: "none", stroke: "#999", "stroke-width": 1});
  const yt = [0, 50, 100, 150, 200, 250];
  yt.forEach(v => { const y = B - v / 259 * (B - T); txt(svg, L - 5, y + 4, String(v), 10, "end", {fill: "#555"}); });
  const xt = [0, 100, 200, 300, 400];
  xt.forEach(v => { const x = L + v / 442 * (R - L); txt(svg, x, 299 - oy + 4, String(v), 10, "middle", {fill: "#555"}); });
  txt(svg, (L + R) / 2, 313 - oy, "X (second of arc)", 10, "middle", {fill: "#555"});
  txt(svg, 1414 - ox, (T + B) / 2, "Y (second of arc)", 10, "middle", {fill: "#555", transform: "rotate(90 " + (1414 - ox) + " " + ((T + B) / 2) + ")"});
})();

function noiseDefs(svg, id, seed) {
  const defs = mk(svg, "defs", {});
  const f = mk(defs, "filter", {id: id + "b", x: 0, y: 0, width: 1, height: 1});
  mk(f, "feTurbulence", {type: "fractalNoise", baseFrequency: "0.06 0.1", numOctaves: 3, seed: seed});
  mk(f, "feColorMatrix", {type: "matrix", values: "0 0 0 0 0.1  0 0 0 0 0.15  0 0 0 0 0.9  3.2 0 0 0 -1.25"});
  const f2 = mk(defs, "filter", {id: id + "r", x: 0, y: 0, width: 1, height: 1});
  mk(f2, "feTurbulence", {type: "fractalNoise", baseFrequency: "0.05 0.08", numOctaves: 2, seed: seed + 11});
  mk(f2, "feColorMatrix", {type: "matrix", values: "0 0 0 0 0.95  0 0 0 0 0.55  0 0 0 0 0.55  3 0 0 0 -1.55"});
  const gr = mk(defs, "linearGradient", {id: id + "cb", x1: 0, x2: 1, y1: 0, y2: 0});
  mk(gr, "stop", {offset: 0, "stop-color": "#0000ff"});
  mk(gr, "stop", {offset: 0.5, "stop-color": "#ffffff"});
  mk(gr, "stop", {offset: 1, "stop-color": "#ff0000"});
}
function colorbar(svg, x, y, w, h, id, label1, label2, lx) {
  mk(svg, "rect", {x: x, y: y, width: w, height: h, fill: "url(#" + id + "cb)", stroke: "#555"});
  const ticks = [-10, -8, -6, -4, -2, 0, 2, 4, 6, 8, 10];
  ticks.forEach(t => { const tx = x + (t + 10) / 20 * w; mk(svg, "line", {x1: tx, x2: tx, y1: y, y2: y + 4, stroke: "#444"}); txt(svg, tx, y + h + 14, String(t), 11); });
  txt(svg, lx, y + 8, label1, 10, "middle", {"font-weight": "bold"});
  txt(svg, lx, y + 22, label2, 10, "middle", {"font-weight": "bold"});
}

// ---------- Figure 2 ----------
(function () {
  const svg = document.getElementById("fig2");
  const ox = 1900, oy = 85;
  const P = (x, y) => (x - ox) + "," + (y - oy);
  noiseDefs(svg, "n2", 4);
  const defs = mk(svg, "defs", {});
  const gv = mk(defs, "linearGradient", {id: "bzg", x1: 0, x2: 0, y1: 0, y2: 1});
  mk(gv, "stop", {offset: 0, "stop-color": "#dd0000"}); mk(gv, "stop", {offset: 0.5, "stop-color": "#ffffff"}); mk(gv, "stop", {offset: 1, "stop-color": "#0000ee"});
  const pg = mk(defs, "linearGradient", {id: "pink", x1: 0, x2: 0.3, y1: 0, y2: 1});
  mk(pg, "stop", {offset: 0, "stop-color": "#f4b8b8"}); mk(pg, "stop", {offset: 0.55, "stop-color": "#f7dede"}); mk(pg, "stop", {offset: 0.75, "stop-color": "#dfe2f5"}); mk(pg, "stop", {offset: 1, "stop-color": "#f4eeee"});
  const cp = mk(defs, "clipPath", {id: "bot"});
  mk(cp, "polygon", {points: [P(1991, 262), P(2360, 247), P(2417, 337), P(2060, 353)].join(" ")});
  const dl = {stroke: "#999", "stroke-dasharray": "2,2", fill: "none"};
  mk(svg, "polyline", Object.assign({points: [P(1991, 95), P(2360, 80), P(2417, 170)].join(" ")}, dl));
  mk(svg, "line", Object.assign({x1: 2360 - ox, y1: 80 - oy, x2: 2360 - ox, y2: 247 - oy}, dl));
  mk(svg, "line", Object.assign({x1: 2417 - ox, y1: 170 - oy, x2: 2417 - ox, y2: 337 - oy}, dl));
  [120, 147, 174, 200, 228].forEach(y => mk(svg, "line", Object.assign({x1: 1991 - ox, y1: y - oy, x2: 2360 - ox, y2: y - 15 - oy}, dl)));
  const gb = mk(svg, "g", {"clip-path": "url(#bot)"});
  mk(gb, "rect", {x: 80, y: 150, width: 440, height: 130, fill: "#e6e8f6"});
  mk(gb, "rect", {x: 80, y: 150, width: 440, height: 130, filter: "url(#n2r)"});
  mk(gb, "rect", {x: 80, y: 150, width: 440, height: 130, filter: "url(#n2b)"});
  const cones = [[2100, 2165, 2133, 300], [2170, 2212, 2200, 297], [2222, 2275, 2245, 297], [2280, 2340, 2318, 305]];
  cones.forEach(c => { for (let k = 0; k <= 12; k++) { const x = c[0] + (c[1] - c[0]) * k / 12; mk(svg, "path", {d: "M" + P(x, 238) + " Q" + P((x + c[2]) / 2, 270) + " " + P(c[2] + (k - 6) * 1.2, c[3]), stroke: "#e00000", "stroke-width": 1.1, fill: "none"}); } });
  mk(svg, "polygon", {points: [P(1993, 157), P(2353, 138), P(2397, 223), P(2047, 237)].join(" "), fill: "url(#pink)", opacity: 0.93});
  const top = [[2060, 119], [2120, 113], [2200, 114], [2245, 120], [2300, 128], [2335, 145]];
  const bot = [[2070, 175], [2120, 185], [2170, 200], [2230, 190], [2290, 198], [2333, 200]];
  for (let k = 0; k <= 60; k++) {
    const t = k / 60 * (top.length - 1), i = Math.min(Math.floor(t), top.length - 2), f = t - i;
    const tx = top[i][0] + (top[i + 1][0] - top[i][0]) * f, ty = top[i][1] + (top[i + 1][1] - top[i][1]) * f;
    const bx = bot[i][0] + (bot[i + 1][0] - bot[i][0]) * f, by = bot[i][1] + (bot[i + 1][1] - bot[i][1]) * f;
    mk(svg, "line", {x1: tx - ox, y1: ty - oy, x2: bx - ox, y2: by - oy, stroke: "#e00000", "stroke-width": 1.2});
  }
  mk(svg, "polyline", {points: top.map(p => P(p[0], p[1])).join(" "), fill: "none", stroke: "#d040d0", "stroke-width": 1});
  mk(svg, "polyline", {points: bot.map(p => P(p[0], p[1])).join(" "), fill: "none", stroke: "#d040d0", "stroke-width": 1});
  mk(svg, "line", {x1: 1991 - ox, y1: 95 - oy, x2: 1991 - ox, y2: 262 - oy, stroke: "#333"});
  mk(svg, "line", {x1: 1991 - ox, y1: 262 - oy, x2: 2060 - ox, y2: 353 - oy, stroke: "#333"});
  mk(svg, "line", {x1: 2060 - ox, y1: 353 - oy, x2: 2417 - ox, y2: 337 - oy, stroke: "#333"});
  const zt = [0, 5, 10, 15, 20, 25, 30];
  zt.forEach(v => txt(svg, 1987 - ox, 253 - v / 30 * 158 - oy + 4, String(v), 10, "end"));
  const xt = [0, 100, 200, 300, 400];
  xt.forEach((v, i) => txt(svg, 1972 + i * 12 - ox, 269 + i * 20 - oy, String(v), 10, "end"));
  const yt = [0, 50, 100, 150, 200, 250];
  yt.forEach((v, i) => txt(svg, 2068 + i * 70 - ox, 370 - i * 3 - oy, String(v), 10));
  txt(svg, 2215 - ox, 382 - oy, "Y (second of arc)", 10);
  txt(svg, 1930 - ox, 344 - oy, "X (second of arc)", 10, "middle");
  txt(svg, 1965 - ox, 176 - oy, "Z (Mm)", 10, "middle", {transform: "rotate(-90 " + (1965 - ox) + " " + (176 - oy) + ")"});
  mk(svg, "rect", {x: 2435 - ox, y: 142 - oy, width: 18, height: 235, fill: "url(#bzg)"});
  [[10, 142], [5, 200], [0, 260], [-5, 318], [-10, 377]].forEach(t => txt(svg, 2456 - ox, t[1] - oy + 4, String(t[0]), 10, "start"));
  txt(svg, 2444 - ox, 119 - oy, "Bz at 20 Mm", 10, "middle", {"font-weight": "bold"});
  txt(svg, 2444 - ox, 133 - oy, "(Gauss)", 10, "middle", {"font-weight": "bold"});
  colorbar(svg, 2004 - ox, 402 - oy, 426, 19, "n2", "Ne VIII Shift", "(km/s)", 1950 - ox);
})();

// ---------- Figure 3 ----------
(function () {
  const svg = document.getElementById("fig3");
  const ox = 1900, oy = 455;
  noiseDefs(svg, "n3", 9);
  const L = 1991 - ox, R = 2470 - ox, T = 464 - oy, B = 711 - oy;
  const cp = mk(svg, "clipPath", {id: "c3"});
  mk(cp, "rect", {x: L, y: T, width: R - L, height: B - T});
  const g = mk(svg, "g", {"clip-path": "url(#c3)"});
  mk(g, "rect", {x: L, y: T, width: R - L, height: B - T, fill: "#dfe2f5"});
  mk(g, "rect", {x: L, y: T, width: R - L, height: B - T, filter: "url(#n3r)"});
  mk(g, "rect", {x: L, y: T, width: R - L, height: B - T, filter: "url(#n3b)"});
  let seed = 31;
  const rnd = () => { seed = (seed * 16807) % 2147483647; return seed / 2147483647; };
  let d = "";
  for (let k = 0; k < 420; k++) {
    const x = L + rnd() * (R - L), y = T + rnd() * (B - T), a = rnd() * 6.28, len = 6 + rnd() * 16, bend = (rnd() - .5) * 14;
    const x2 = x + Math.cos(a) * len, y2 = y + Math.sin(a) * len;
    d += "M" + x.toFixed(1) + "," + y.toFixed(1) + "Q" + ((x + x2) / 2 + bend).toFixed(1) + "," + ((y + y2) / 2 - bend).toFixed(1) + " " + x2.toFixed(1) + "," + y2.toFixed(1);
  }
  mk(g, "path", {d: d, fill: "none", stroke: "#111", "stroke-width": 1.2});
  for (let k = 0; k < 45; k++) mk(g, "ellipse", {cx: L + rnd() * (R - L), cy: T + rnd() * (B - T), rx: 3 + rnd() * 4, ry: 4 + rnd() * 5, fill: "none", stroke: k % 2 ? "#20c020" : "#d020d0", "stroke-width": 1.6});
  mk(g, "line", {x1: L + 62, y1: T + 8, x2: L + 38, y2: T + 180, stroke: "#ffff00", "stroke-width": 2});
  mk(g, "line", {x1: L + 340, y1: T + 215, x2: L + 380, y2: T + 250, stroke: "#ffff00", "stroke-width": 2});
  mk(svg, "rect", {x: L, y: T, width: R - L, height: B - T, fill: "none", stroke: "#444"});
  const yt = [0, 50, 100, 150, 200, 250];
  yt.forEach(v => txt(svg, L - 4, B - v / 259 * (B - T) + 4, String(v), 11, "end"));
  const xt = [0, 100, 200, 300, 400];
  xt.forEach(v => txt(svg, L + v / 442 * (R - L), B + 15, String(v), 11));
  txt(svg, (L + R) / 2 - 40, B + 31, "X (second of arc)", 11);
  txt(svg, L - 30, (T + B) / 2, "Y (second of arc)", 11, "middle", {transform: "rotate(-90 " + (L - 30) + " " + ((T + B) / 2) + ")"});
  colorbar(svg, 1988 - ox, 753 - oy, 480, 23, "n3", "Ne VIII Shift", "(km/s)", 1948 - ox);
})();
</script>
</body></html>
